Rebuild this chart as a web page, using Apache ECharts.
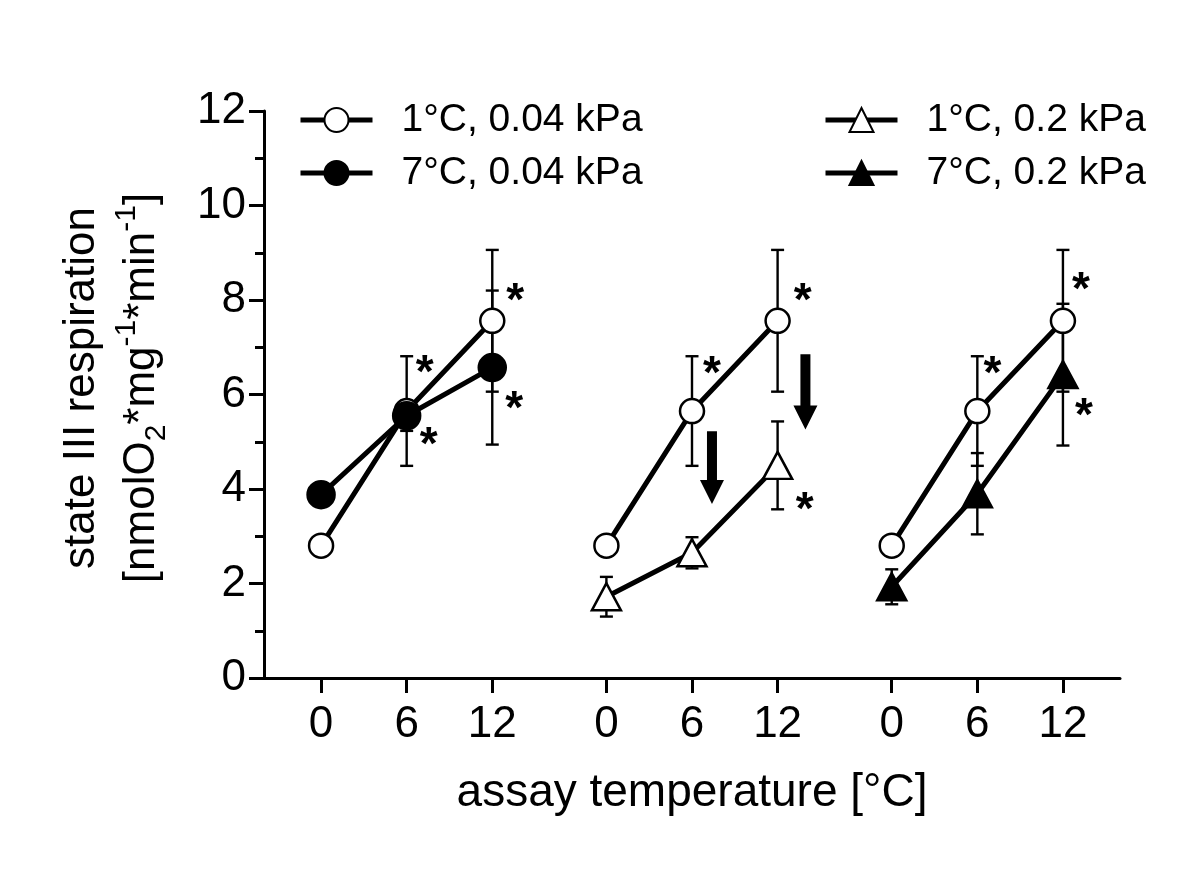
<!DOCTYPE html>
<html><head><meta charset="utf-8">
<script src="https://cdn.jsdelivr.net/npm/echarts@6/dist/echarts.min.js"></script>
<style>html,body{margin:0;padding:0;background:#fff}#chart{width:1200px;height:872px}</style>
</head><body><div id="chart"></div>
<script>
// ---------- data ----------
const tempLabels = ['0', '6', '12'];
const assayTemps = [0, 6, 12];
const seriesNames = ['1°C, 0.04 kPa', '7°C, 0.04 kPa', '1°C, 0.2 kPa', '7°C, 0.2 kPa'];
const mean_1C_004 = [2.8, 5.65, 7.56];
const sem_1C_004  = [0.2, 1.16, 1.5];
const mean_7C_004 = [3.88, 5.55, 6.57];
const sem_7C_004  = [0.2, 0.32, 1.63];
const mean_1C_02  = [1.72, 2.65, 4.5];
const sem_1C_02   = [0.42, 0.33, 0.93];
const mean_7C_02  = [1.93, 3.9, 6.42];
const sem_7C_02   = [0.37, 0.86, 1.5];
// panels: which series each of the three panels shows
const panelSeries = [
  ['1°C, 0.04 kPa', '7°C, 0.04 kPa'],
  ['1°C, 0.04 kPa', '1°C, 0.2 kPa'],
  ['1°C, 0.04 kPa', '7°C, 0.2 kPa']
];
// significance asterisks: [panel, series name, point index]
const sigMarks = [
  [0, '1°C, 0.04 kPa', 2], [0, '7°C, 0.04 kPa', 2], [0, '1°C, 0.04 kPa', 1], [0, '7°C, 0.04 kPa', 1],
  [1, '1°C, 0.04 kPa', 1], [1, '1°C, 0.04 kPa', 2], [1, '1°C, 0.2 kPa', 2],
  [2, '1°C, 0.04 kPa', 1], [2, '1°C, 0.04 kPa', 2], [2, '7°C, 0.2 kPa', 2]
];
// down arrows in panel 2: [panel, assay temp, from value, to value]
const arrowMarks = [[1, 7.4, 5.22, 3.68], [1, 13.95, 6.85, 5.26]];

// ---------- layout / style ----------
const PANEL_STEP = 20;
const FONT = '"Liberation Sans", Arial, Helvetica, sans-serif';
const sigOffsets = [[23, -27], [22, 34], [18, -46], [22, 22], [20, -45], [25, -27], [27, 37], [15, -45], [18, -38], [21, 34]];
const meanOf = {
  '1°C, 0.04 kPa': [mean_1C_004, sem_1C_004],
  '7°C, 0.04 kPa': [mean_7C_004, sem_7C_004],
  '1°C, 0.2 kPa': [mean_1C_02, sem_1C_02],
  '7°C, 0.2 kPa': [mean_7C_02, sem_7C_02]
};
const styleOf = {
  '1°C, 0.04 kPa': {symbol: 'circle', size: 24, fill: '#fff'},
  '7°C, 0.04 kPa': {symbol: 'circle', size: 27, fill: '#000'},
  '1°C, 0.2 kPa': {symbol: 'triangle', size: [29, 27], fill: '#fff'},
  '7°C, 0.2 kPa': {symbol: 'triangle', size: [29, 27], fill: '#000'}
};
const px = (p, t) => p * PANEL_STEP + t;
const tickVals = [];
panelSeries.forEach((_, p) => assayTemps.forEach(t => tickVals.push(px(p, t))));

const series = [];
const errData = [];
panelSeries.forEach((names, p) => {
  names.forEach(name => {
    const [m, e] = meanOf[name];
    const st = styleOf[name];
    series.push({
      type: 'line', name: name,
      data: assayTemps.map((t, i) => [px(p, t), m[i]]),
      symbol: st.symbol, symbolSize: st.size, showSymbol: true,
      lineStyle: {color: '#000', width: 5},
      itemStyle: {color: st.fill, borderColor: '#000', borderWidth: 2.5},
      z: 3, animation: false, emphasis: {disabled: true}, silent: true
    });
    assayTemps.forEach((t, i) => errData.push([px(p, t), m[i] - e[i], m[i] + e[i]]));
  });
});

series.unshift({
  type: 'custom', name: 'err', z: 1, silent: true, animation: false,
  data: errData, encode: {x: 0, y: [1, 2]},
  renderItem: (params, api) => {
    const x = api.value(0);
    const lo = api.coord([x, api.value(1)]);
    const hi = api.coord([x, api.value(2)]);
    const w = 6.5, s = {stroke: '#000', lineWidth: 2.4};
    return {type: 'group', children: [
      {type: 'line', shape: {x1: lo[0], y1: lo[1], x2: hi[0], y2: hi[1]}, style: s},
      {type: 'line', shape: {x1: lo[0] - w, y1: lo[1], x2: lo[0] + w, y2: lo[1]}, style: s},
      {type: 'line', shape: {x1: hi[0] - w, y1: hi[1], x2: hi[0] + w, y2: hi[1]}, style: s}
    ]};
  }
});

series.push({
  type: 'custom', name: 'sig', z: 5, silent: true, animation: false,
  data: sigMarks.map(s => [px(s[0], assayTemps[s[2]]), meanOf[s[1]][0][s[2]]]),
  encode: {x: 0, y: 1},
  renderItem: (params, api) => {
    const c = api.coord([api.value(0), api.value(1)]);
    const o = sigOffsets[params.dataIndex];
    return {type: 'text', x: c[0] + o[0], y: c[1] + o[1] + 9,
      style: {text: '*', fontSize: 46, fontWeight: 'bold', fontFamily: FONT, fill: '#000', align: 'center', verticalAlign: 'middle'}};
  }
});

series.push({
  type: 'custom', name: 'arrows', z: 5, silent: true, animation: false,
  data: arrowMarks.map(a => [px(a[0], a[1]), a[2], a[3]]),
  encode: {x: 0, y: [1, 2]},
  renderItem: (params, api) => {
    const x = api.value(0);
    const top = api.coord([x, api.value(1)]);
    const bot = api.coord([x, api.value(2)]);
    const sw = 5, hw = 12, hh = 24;
    const cx = top[0];
    return {type: 'polygon', shape: {points: [
      [cx - sw, top[1]], [cx + sw, top[1]], [cx + sw, bot[1] - hh], [cx + hw, bot[1] - hh],
      [cx, bot[1]], [cx - hw, bot[1] - hh], [cx - sw, bot[1] - hh]
    ]}, style: {fill: '#000'}};
  }
});

const legendCommon = {
  orient: 'vertical', top: 93, itemWidth: 72, itemHeight: 30, itemGap: 9,
  selectedMode: false,
  lineStyle: {width: 5, color: '#000'},
  textStyle: {fontSize: 39, fontFamily: FONT, color: '#000', lineHeight: 44, padding: [0, 0, 0, 24]}
};

const option = {
  backgroundColor: '#fff',
  animation: false,
  grid: {left: 264, right: 80, top: 111, bottom: 194},
  legend: [
    Object.assign({left: 293, data: [seriesNames[0], seriesNames[1]]}, legendCommon),
    Object.assign({left: 818, data: [seriesNames[2], seriesNames[3]]}, legendCommon)
  ],
  xAxis: {
    type: 'value', min: -4, max: 56,
    axisLine: {show: true, onZero: false, lineStyle: {color: '#000', width: 3}},
    axisTick: {show: true, length: 15, customValues: tickVals, lineStyle: {color: '#000', width: 3}},
    axisLabel: {
      customValues: tickVals, margin: 25, fontSize: 44, color: '#000', fontFamily: FONT,
      formatter: v => { const i = tickVals.indexOf(v); return i < 0 ? '' : tempLabels[i % tempLabels.length]; }
    },
    splitLine: {show: false},
    name: 'assay temperature [°C]', nameLocation: 'middle', nameGap: 92,
    nameTextStyle: {fontSize: 46, color: '#000', fontFamily: FONT}
  },
  yAxis: {
    type: 'value', min: 0, max: 12, interval: 2,
    axisLine: {show: true, onZero: false, lineStyle: {color: '#000', width: 3}},
    axisTick: {show: true, length: 15, lineStyle: {color: '#000', width: 3}},
    minorTick: {show: true, splitNumber: 2, length: 9, lineStyle: {color: '#000', width: 3}},
    axisLabel: {margin: 18, fontSize: 44, color: '#000', fontFamily: FONT},
    splitLine: {show: false}, minorSplitLine: {show: false}
  },
  graphic: [{
    type: 'text', x: 112, y: 388, rotation: Math.PI / 2, silent: true,
    style: {
      text: '{t|state III respiration}\n{t|[nmolO}{sub|2}{t|*mg}{sup|-1}{t|*min}{sup|-1}{t|]}',
      align: 'center', verticalAlign: 'middle', fill: '#000', fontFamily: FONT, fontSize: 44,
      rich: {
        t: {fontSize: 44, lineHeight: 60, fontFamily: FONT, fill: '#000'},
        sub: {fontSize: 30, lineHeight: 30, verticalAlign: 'bottom', fontFamily: FONT, fill: '#000'},
        sup: {fontSize: 30, lineHeight: 30, verticalAlign: 'top', fontFamily: FONT, fill: '#000'}
      }
    }
  }],
  series: series
};
const chart = echarts.init(document.getElementById('chart'), null, {renderer: 'canvas'});
chart.setOption(option);
</script>
</body></html>
